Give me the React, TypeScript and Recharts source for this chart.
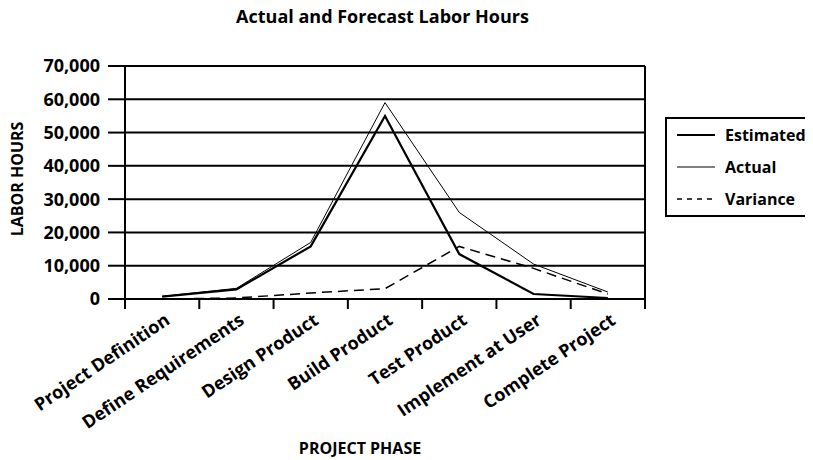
import { LineChart, Line, XAxis, YAxis, CartesianGrid, Legend, ReferenceLine } from 'recharts'

const phases = [
  'Project Definition',
  'Define Requirements',
  'Design Product',
  'Build Product',
  'Test Product',
  'Implement at User',
  'Complete Project',
]
const estimated = [700, 2900, 15800, 55000, 13500, 1500, 300]
const actual = [800, 3200, 17000, 59000, 26000, 10500, 2100]
const variance = [0, 300, 1800, 3100, 15800, 9200, 1500]
const yTicks = [0, 10000, 20000, 30000, 40000, 50000, 60000, 70000]
const xBounds = [0, 1, 2, 3, 4, 5, 6, 7]
const legendOrder = ['Estimated', 'Actual', 'Variance']

const data = phases.map((phase, i) => ({
  phase,
  pos: i + 0.5,
  estimated: estimated[i],
  actual: actual[i],
  variance: variance[i],
}))

const font = '"Open Sans", Lato, sans-serif'
const bandWidth = 520 / 7

function PhaseTick({ x, y, payload }: any) {
  const i = payload.value
  if (i >= phases.length) return null
  const ax = x + bandWidth / 2 + 9
  const ay = y + 12
  return (
    <text
      x={ax}
      y={ay}
      transform={`rotate(-34, ${ax}, ${ay})`}
      textAnchor="end"
      fontFamily={font}
      fontWeight={700}
      fontSize={18}
      fill="#000"
    >
      {phases[i]}
    </text>
  )
}

function AxisTitle({ px, py, rot, text }: any) {
  return (
    <text
      x={px}
      y={py}
      transform={rot ? `rotate(${rot}, ${px}, ${py})` : undefined}
      textAnchor="middle"
      dominantBaseline="central"
      fontFamily={font}
      fontWeight={700}
      fontSize={16}
      fill="#000"
    >
      {text}
    </text>
  )
}

function LegendBox({ payload }: any) {
  const items = [...(payload || [])].sort(
    (a: any, b: any) => legendOrder.indexOf(a.value) - legendOrder.indexOf(b.value),
  )
  return (
    <div
      style={{
        width: 143,
        height: 96,
        border: '2px solid #000',
        fontFamily: font,
        fontWeight: 700,
        fontSize: 16,
        color: '#000',
      }}
    >
      {items.map((p: any) => (
        <div key={p.value} style={{ display: 'flex', alignItems: 'center', height: 32 }}>
          <svg width={58} height={10} style={{ flex: 'none' }}>
            <line
              x1={10}
              x2={48}
              y1={5}
              y2={5}
              stroke="#000"
              strokeWidth={p.payload.strokeWidth}
              strokeDasharray={p.payload.strokeDasharray ? '5 5' : undefined}
            />
          </svg>
          <span>{p.value}</span>
        </div>
      ))}
    </div>
  )
}

export default function App() {
  return (
    <div style={{ position: 'relative', width: 805, height: 452, background: '#fff' }}>
      <div
        style={{
          position: 'absolute',
          left: 0,
          top: -4,
          width: 749,
          textAlign: 'center',
          fontFamily: font,
          fontWeight: 700,
          fontSize: 18,
        }}
      >
        Actual and Forecast Labor Hours
      </div>
      <LineChart width={805} height={452} data={data} margin={{ top: 58, right: 168, bottom: 11, left: 0 }}>
        <CartesianGrid vertical={false} stroke="#000" strokeWidth={2} strokeOpacity={1} />
        <XAxis
          type="number"
          dataKey="pos"
          domain={[0, 7]}
          ticks={xBounds}
          interval={0}
          height={150}
          tickSize={10}
          axisLine={{ stroke: '#000', strokeWidth: 2 }}
          tickLine={{ stroke: '#000', strokeWidth: 2 }}
          tick={<PhaseTick />}
          label={<AxisTitle px={352} py={440} text="PROJECT PHASE" />}
        />
        <YAxis
          domain={[0, 70000]}
          ticks={yTicks}
          width={117}
          tickSize={17}
          tickMargin={8}
          tickFormatter={(v: number) => v.toLocaleString('en-US')}
          axisLine={{ stroke: '#000', strokeWidth: 2 }}
          tickLine={{ stroke: '#000', strokeWidth: 2 }}
          tick={{ fill: '#000', fontFamily: font, fontWeight: 700, fontSize: 18 }}
          label={<AxisTitle px={9} py={171} rot={-90} text="LABOR HOURS" />}
        />
        <ReferenceLine x={7} stroke="#000" strokeWidth={2} />
        <Legend
          layout="vertical"
          align="center"
          verticalAlign="middle"
          wrapperStyle={{ left: 657, top: 109, width: 147 }}
          content={<LegendBox />}
        />
        <Line
          name="Estimated"
          dataKey="estimated"
          stroke="#000"
          strokeWidth={2.2}
          dot={false}
          isAnimationActive={false}
        />
        <Line
          name="Actual"
          dataKey="actual"
          stroke="#000"
          strokeWidth={1}
          dot={false}
          isAnimationActive={false}
        />
        <Line
          name="Variance"
          dataKey="variance"
          stroke="#000"
          strokeWidth={1.5}
          strokeDasharray="10 6"
          dot={false}
          isAnimationActive={false}
        />
      </LineChart>
    </div>
  )
}
